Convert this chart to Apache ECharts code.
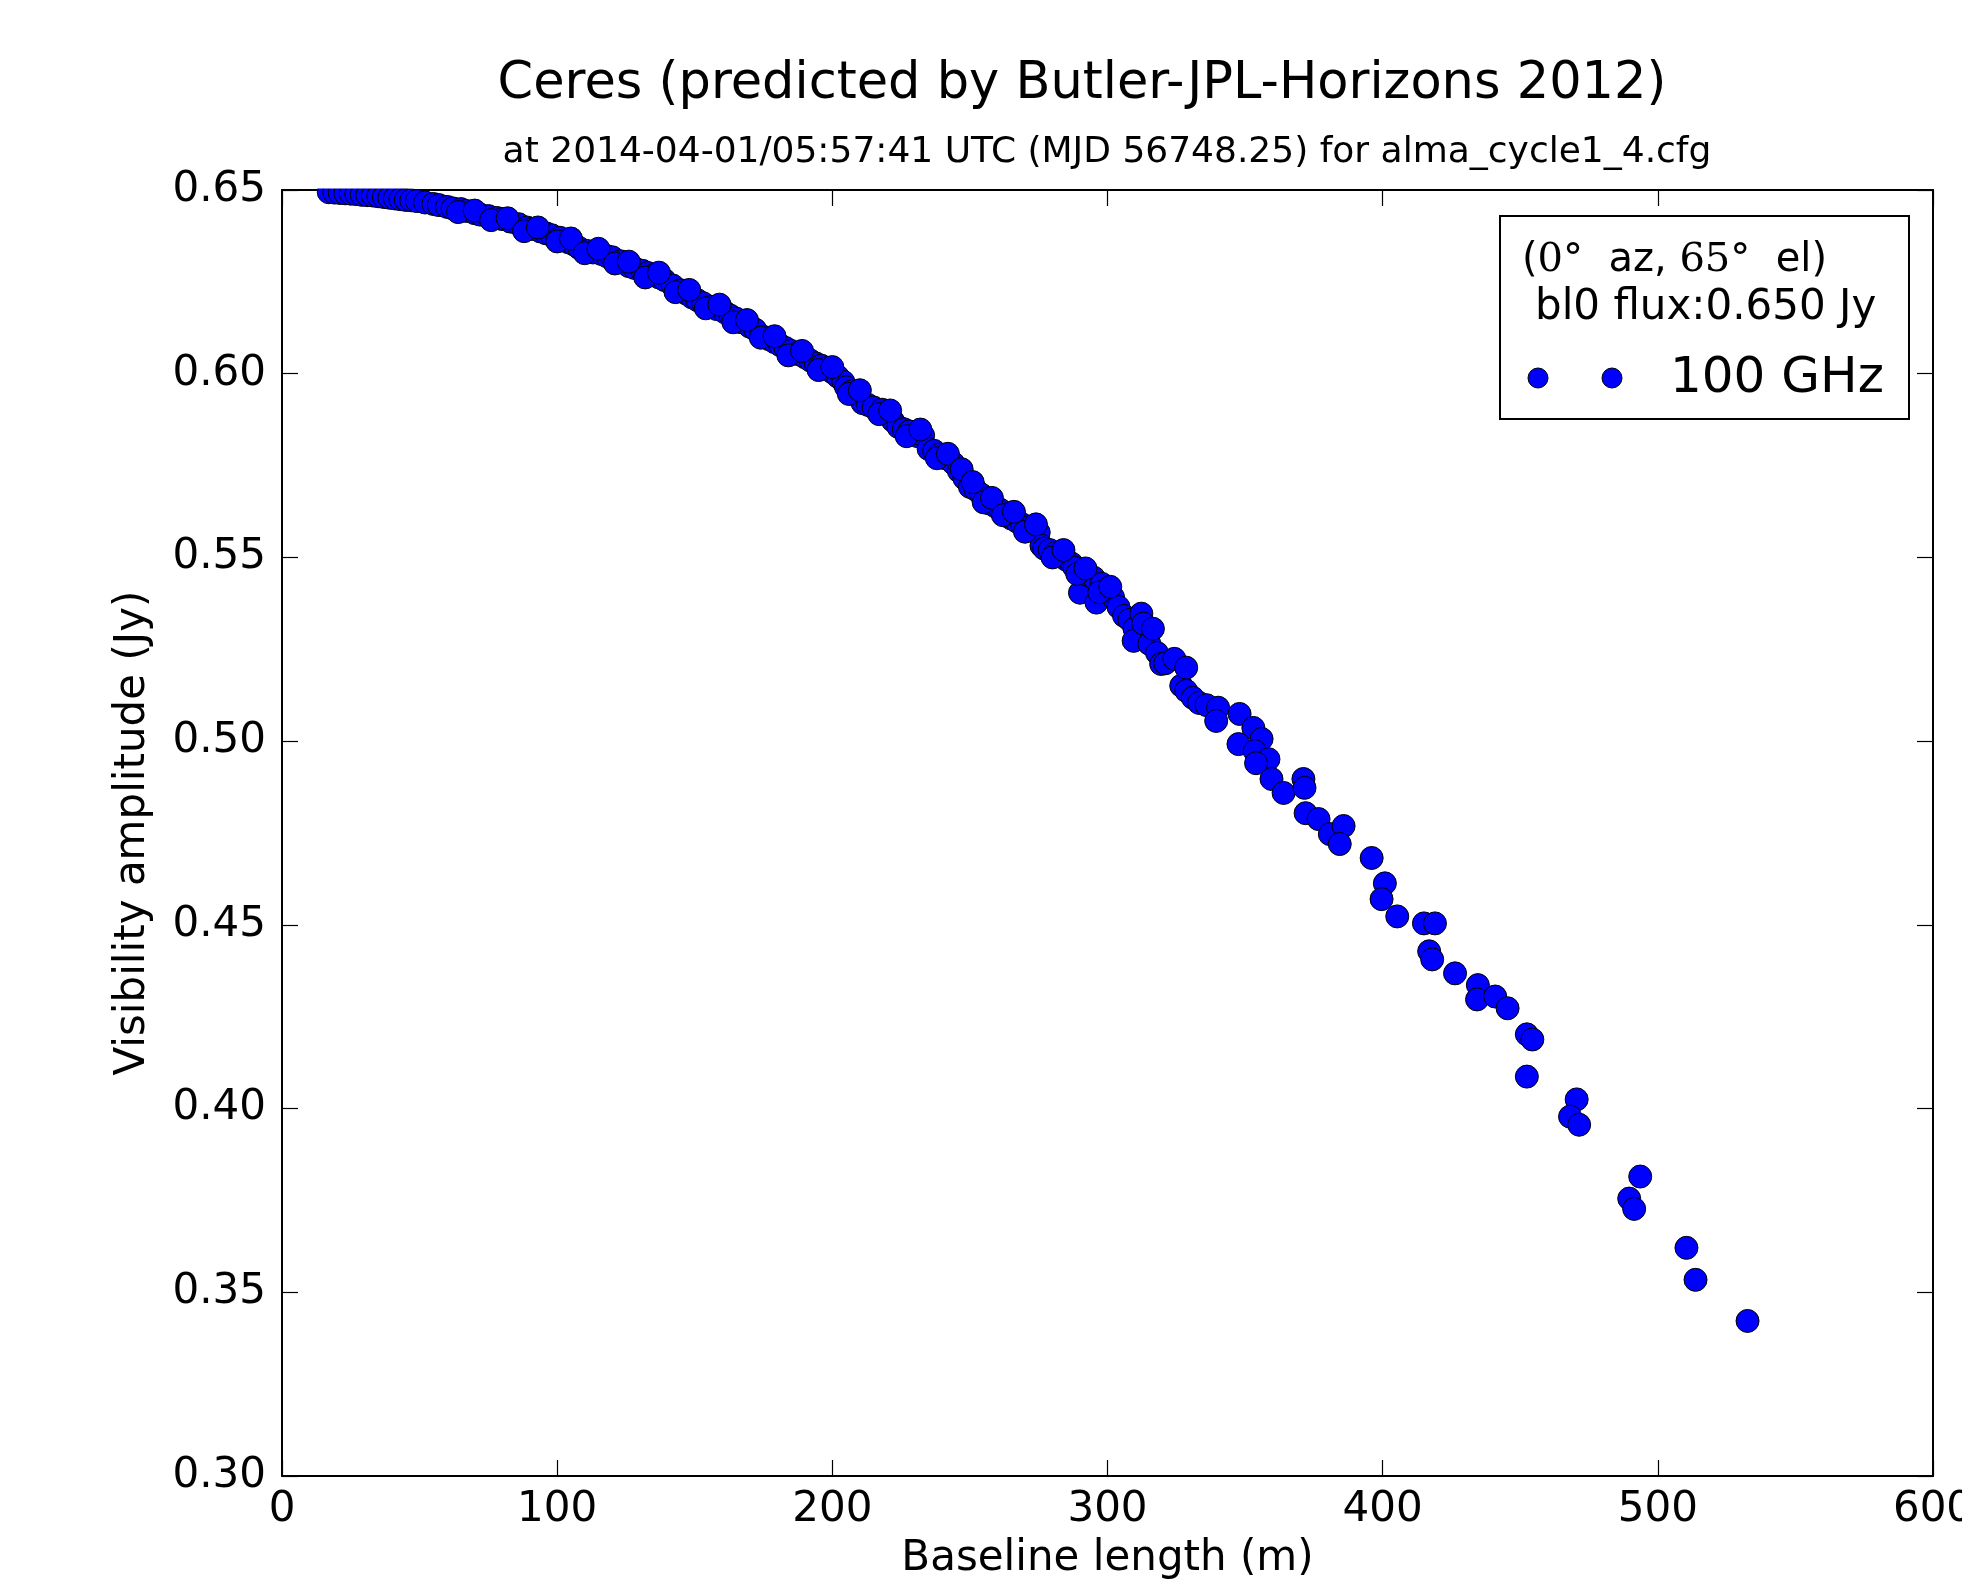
<!DOCTYPE html>
<html>
<head>
<meta charset="utf-8">
<script src="https://cdn.jsdelivr.net/npm/echarts@6/dist/echarts.min.js"></script>
<style>
html,body{margin:0;padding:0;background:#fff;}
#chart{width:1962px;height:1582px;}
</style>
</head>
<body>
<div id="chart"></div>
<script>
// ---- Data ----
const titleText = 'Ceres (predicted by Butler-JPL-Horizons 2012)';
const subtitleText = 'at 2014-04-01/05:57:41 UTC (MJD 56748.25) for alma_cycle1_4.cfg';
const xAxisName = 'Baseline length (m)';
const yAxisName = 'Visibility amplitude (Jy)';
const seriesName = '100 GHz';
const xTicks = [0, 100, 200, 300, 400, 500, 600];
const yTicks = [0.30, 0.35, 0.40, 0.45, 0.50, 0.55, 0.60, 0.65];

// baseline length (m)
const baselines = [
  17,19,21,23,25,27,29,31,33,35,37,39,41,43,45,47,49,52,55,57,
  60,62,65,67,70,72,75,78,80,83,86,89,91,94,96,98,101,104,106,108,
  111,113,116,118,120,123,126,128,131,133,135,137,139,142,145,147,149,151,153,156,
  158,161,163,165,167,170,172,175,177,179,181,183,185,187,190,192,194,196,198,200,
  202,204,205,207,209,211,213,215,218,220,222,224,226,228,231,233,235,237,239,241,
  244,246,248,250,252,254,256,257,259,261,263,265,267,269,271,273,275,276,277,279,
  281,283,285,287,288,290,291,293,295,296,298,300,
  302,304,306,308,309.8,309.5,312.3,313,315.2,316.5,318,319.5,321,324.3,326.8,328.6,328.6,331,333.3,336,
  340.2,339.5,348,353,356,347.6,353.5,358.5,354,359.6,364,371.2,371.6,372,376.7,380.8,385.8,384.4,396,400.8,
  399.6,405.3,415,419,416.9,418,426.3,434.6,434.3,440.9,445.4,452.4,454.4,452.4,470.5,468.1,471.4,493.6,489.6,491.4,
  510.4,513.7,532.6,
  64,70,76,82,88,93,100,105,110,115,121,126,132,137,143,148,154,159,164,169,
  174,179,184,189,195,200,206,210,217,221,227,232,238,242,247,251,255,258,262,266,
  270,274,280,284,289,292,297,301
];
// visibility amplitude (Jy)
const amplitudes = [
  0.6494,0.6493,0.6492,0.6491,0.6490,0.6489,0.6487,0.6486,0.6485,0.6483,0.6481,0.6479,0.6477,0.6475,0.6473,0.6472,0.6470,0.6466,0.6462,0.6459,
  0.6454,0.6450,0.6448,0.6443,0.6437,0.6433,0.6429,0.6424,0.6421,0.6414,0.6407,0.6398,0.6394,0.6387,0.6382,0.6377,0.6370,0.6358,0.6352,0.6342,
  0.6334,0.6330,0.6326,0.6320,0.6317,0.6306,0.6293,0.6288,0.6280,0.6274,0.6268,0.6262,0.6255,0.6240,0.6227,0.6218,0.6208,0.6200,0.6192,0.6182,
  0.6176,0.6167,0.6158,0.6150,0.6140,0.6128,0.6120,0.6100,0.6094,0.6086,0.6078,0.6070,0.6062,0.6054,0.6045,0.6036,0.6028,0.6022,0.6015,0.6004,
  0.5992,0.5978,0.5963,0.5952,0.5940,0.5920,0.5915,0.5908,0.5902,0.5888,0.5872,0.5855,0.5849,0.5843,0.5830,0.5832,0.5795,0.5790,0.5780,0.5770,
  0.5756,0.5735,0.5715,0.5692,0.5685,0.5672,0.5660,0.5647,0.5640,0.5630,0.5617,0.5606,0.5598,0.5590,0.5582,0.5576,0.5568,0.5532,0.5524,0.5520,
  0.5512,0.5503,0.5494,0.5483,0.5472,0.5404,0.5460,0.5452,0.5445,0.5377,0.5428,0.5409,
  0.5392,0.5365,0.5341,0.5330,0.5306,0.5273,0.5347,0.5320,0.5265,0.5306,0.5240,0.5210,0.5212,0.5224,0.5151,0.5200,0.5137,0.5118,0.5104,0.5098,
  0.5091,0.5055,0.5074,0.5036,0.5006,0.4992,0.4973,0.4951,0.4940,0.4897,0.4859,0.4897,0.4873,0.4804,0.4788,0.4747,0.4769,0.4720,0.4682,0.4613,
  0.4570,0.4523,0.4504,0.4504,0.4428,0.4406,0.4368,0.4336,0.4297,0.4305,0.4273,0.4202,0.4188,0.4087,0.4025,0.3978,0.3956,0.3815,0.3755,0.3727,
  0.3621,0.3534,0.3422,
  0.6440,0.6444,0.6418,0.6423,0.6388,0.6398,0.6360,0.6368,0.6328,0.6340,0.6300,0.6305,0.6262,0.6275,0.6222,0.6228,0.6178,0.6188,0.6140,0.6146,
  0.6098,0.6102,0.6050,0.6062,0.6010,0.6018,0.5945,0.5955,0.5890,0.5900,0.5830,0.5848,0.5770,0.5782,0.5740,0.5705,0.5650,0.5662,0.5615,0.5624,
  0.5570,0.5590,0.5500,0.5520,0.5455,0.5470,0.5405,0.5420
];

const points = baselines.map((b, i) => [b, amplitudes[i]]);

const FONT = 'DejaVu Sans';
const GRID = {left: 282, top: 190, width: 1651, height: 1286};

const chart = echarts.init(document.getElementById('chart'), null, {renderer: 'canvas'});

const axisCommon = {
  type: 'value',
  splitLine: {show: false},
  axisLine: {show: true, onZero: false, lineStyle: {color: '#000', width: 2}},
  axisTick: {show: true, inside: true, length: 16, lineStyle: {color: '#000', width: 1.2}}
};

const option = {
  backgroundColor: '#fff',
  animation: false,
  grid: Object.assign({outerBoundsMode: 'none', containLabel: false}, GRID),
  xAxis: [
    Object.assign({}, axisCommon, {
      position: 'bottom',
      min: xTicks[0], max: xTicks[xTicks.length - 1], interval: 100,
      name: xAxisName, nameLocation: 'middle', nameGap: 62,
      nameTextStyle: {fontFamily: FONT, fontSize: 42, color: '#000'},
      axisLabel: {fontFamily: FONT, fontSize: 42, color: '#000', margin: 13, showMinLabel: true, showMaxLabel: true}
    }),
    Object.assign({}, axisCommon, {
      position: 'top',
      min: xTicks[0], max: xTicks[xTicks.length - 1], interval: 100,
      axisLabel: {show: false}
    })
  ],
  yAxis: [
    Object.assign({}, axisCommon, {
      position: 'left',
      min: yTicks[0], max: yTicks[yTicks.length - 1], interval: 0.05,
      name: yAxisName, nameLocation: 'middle', nameGap: 128,
      nameTextStyle: {fontFamily: FONT, fontSize: 42, color: '#000'},
      axisLabel: {fontFamily: FONT, fontSize: 42, color: '#000', margin: 16,
        padding: [5, 0, 0, 0],
        formatter: v => v.toFixed(2), showMinLabel: true, showMaxLabel: true}
    }),
    Object.assign({}, axisCommon, {
      position: 'right',
      min: yTicks[0], max: yTicks[yTicks.length - 1], interval: 0.05,
      axisLabel: {show: false}
    })
  ],
  series: [{
    name: seriesName,
    type: 'scatter',
    xAxisIndex: 0, yAxisIndex: 0,
    data: points,
    symbol: 'circle',
    symbolSize: 23,
    itemStyle: {color: '#0000ff', borderColor: '#000', borderWidth: 1, opacity: 1},
    z: 2
  }],
  graphic: [
    // clip markers above the top frame (as matplotlib clips to axes)
    {type: 'rect', z: 100, silent: true,
     shape: {x: GRID.left + 1, y: 172, width: GRID.width - 2, height: 16.5},
     style: {fill: '#fff'}},
    {type: 'text', z: 100, x: 1082, y: 85,
     style: {text: titleText, font: '51px "DejaVu Sans"', fill: '#000', textAlign: 'center', textVerticalAlign: 'middle'}},
    {type: 'text', z: 100, x: 1107, y: 153,
     style: {text: subtitleText, font: '36px "DejaVu Sans"', fill: '#000', textAlign: 'center', textVerticalAlign: 'middle'}},
    // legend box
    {type: 'rect', z: 100,
     shape: {x: 1500, y: 216, width: 409, height: 203},
     style: {fill: '#fff', stroke: '#000', lineWidth: 2}},
    {type: 'text', z: 101, x: 1522, y: 261,
     style: {
       rich: {
         s: {fontFamily: FONT, fontSize: 40, fill: '#000'},
         m: {fontFamily: 'DejaVu Serif', fontSize: 40, fill: '#000'}
       },
       text: '{s|(}{m|0°}{s|  az, }{m|65°}{s|  el)}',
       textAlign: 'left', textVerticalAlign: 'middle'
     }},
    {type: 'text', z: 101, x: 1535, y: 308,
     style: {text: 'bl0 flux:0.650 Jy', font: '42px "DejaVu Sans"', fill: '#000', textAlign: 'left', textVerticalAlign: 'middle'}},
    {type: 'circle', z: 101, shape: {cx: 1538, cy: 378, r: 10},
     style: {fill: '#0000ff', stroke: '#000', lineWidth: 1}},
    {type: 'circle', z: 101, shape: {cx: 1612, cy: 378, r: 10},
     style: {fill: '#0000ff', stroke: '#000', lineWidth: 1}},
    {type: 'text', z: 101, x: 1670, y: 379,
     style: {text: seriesName, font: '50px "DejaVu Sans"', fill: '#000', textAlign: 'left', textVerticalAlign: 'middle'}}
  ]
};

chart.setOption(option);
</script>
</body>
</html>
